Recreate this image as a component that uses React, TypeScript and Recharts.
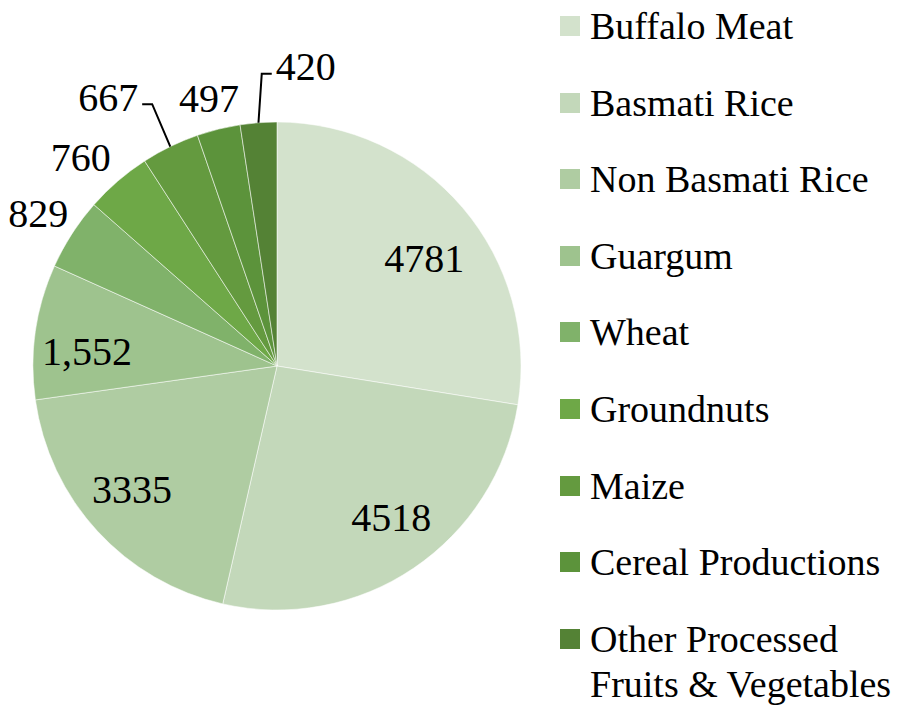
import React from 'react';
import { PieChart, Pie, Cell, Legend } from 'recharts';

const categories = [
  'Buffalo Meat',
  'Basmati Rice',
  'Non Basmati Rice',
  'Guargum',
  'Wheat',
  'Groundnuts',
  'Maize',
  'Cereal Productions',
  'Other Processed Fruits & Vegetables',
];
const values = [4781, 4518, 3335, 1552, 829, 760, 667, 497, 420];
const valueLabels = ['4781', '4518', '3335', '1,552', '829', '760', '667', '497', '420'];
const colors = ['#D3E2CC', '#C3D8BA', '#AFCCA2', '#9EC38E', '#80B26A', '#6EA847', '#649A3F', '#5C933B', '#548235'];

// where each data label sits: inside the slice, outside it, or outside with a leader line
const labelLayout = [
  { kind: 'inside', r: 183, dx: 8, dy: 11 },
  { kind: 'inside', r: 190, dx: 8, dy: -6 },
  { kind: 'inside', r: 190, dx: -5, dy: -5 },
  { kind: 'inside', r: 190, dx: -2, dy: 12 },
  { kind: 'inside', r: 284, dx: 0, dy: 1 },
  { kind: 'inside', r: 284, dx: -11, dy: 7 },
  { kind: 'leaderLeft', r: 290, dx: 2, dy: -1 },
  { kind: 'inside', r: 284, dx: 0, dy: 8 },
  { kind: 'leaderRight', r: 293, dx: 7, dy: 0 },
];

const data = categories.map((name, i) => ({ name, value: values[i], label: valueLabels[i] }));

const FONT = '"Liberation Serif", "Times New Roman", serif';
const RAD = Math.PI / 180;

const polar = (cx: number, cy: number, r: number, angle: number) => ({
  x: cx + r * Math.cos(-angle * RAD),
  y: cy + r * Math.sin(-angle * RAD),
});

const renderLabel = (props: any) => {
  const { cx, cy, midAngle, outerRadius, index } = props;
  const lay = labelLayout[index];
  const text = valueLabels[index];
  const style = { fontFamily: FONT, fontSize: 40, fill: '#000' };
  if (lay.kind === 'inside') {
    const p = polar(cx, cy, lay.r, midAngle);
    return (
      <text x={p.x + lay.dx} y={p.y + lay.dy} textAnchor="middle" dominantBaseline="central" style={style}>
        {text}
      </text>
    );
  }
  const edge = polar(cx, cy, outerRadius, midAngle);
  const elbow = polar(cx, cy, lay.r, midAngle);
  const ex = elbow.x + lay.dx;
  const ey = elbow.y + lay.dy;
  const dir = lay.kind === 'leaderLeft' ? -1 : 1;
  const endX = ex + dir * 10;
  return (
    <g>
      <polyline points={`${edge.x},${edge.y} ${ex},${ey} ${endX},${ey}`} fill="none" stroke="#000" strokeWidth={2} />
      <text
        x={endX + dir * 4}
        y={ey - 7}
        textAnchor={dir < 0 ? 'end' : 'start'}
        dominantBaseline="central"
        style={style}
      >
        {text}
      </text>
    </g>
  );
};

const LegendList = () => (
  <div style={{ fontFamily: FONT, fontSize: 38, color: '#000', lineHeight: '45px' }}>
    {categories.map((name, i) => (
      <div key={name} style={{ display: 'flex', alignItems: 'flex-start', height: 76.6 }}>
        <div style={{ width: 20, height: 20, background: colors[i], marginTop: 12, marginRight: 10, flexShrink: 0 }} />
        <div style={{ width: 330 }}>{name}</div>
      </div>
    ))}
  </div>
);

export default function App() {
  return (
    <PieChart width={896} height={698} margin={{ top: 0, right: 0, bottom: 0, left: 0 }}>
      <Pie
        data={data}
        dataKey="value"
        nameKey="name"
        cx={269}
        cy={358}
        outerRadius={244}
        startAngle={90}
        endAngle={-270}
        stroke="#fff"
        strokeWidth={0.75}
        strokeOpacity={0.7}
        label={renderLabel}
        labelLine={false}
        isAnimationActive={false}
      >
        {data.map((d, i) => (
          <Cell key={d.name} fill={colors[i]} />
        ))}
      </Pie>
      <Legend
        layout="vertical"
        align="right"
        verticalAlign="middle"
        content={() => <LegendList />}
        wrapperStyle={{ left: 552, top: -4, width: 344 }}
      />
    </PieChart>
  );
}
